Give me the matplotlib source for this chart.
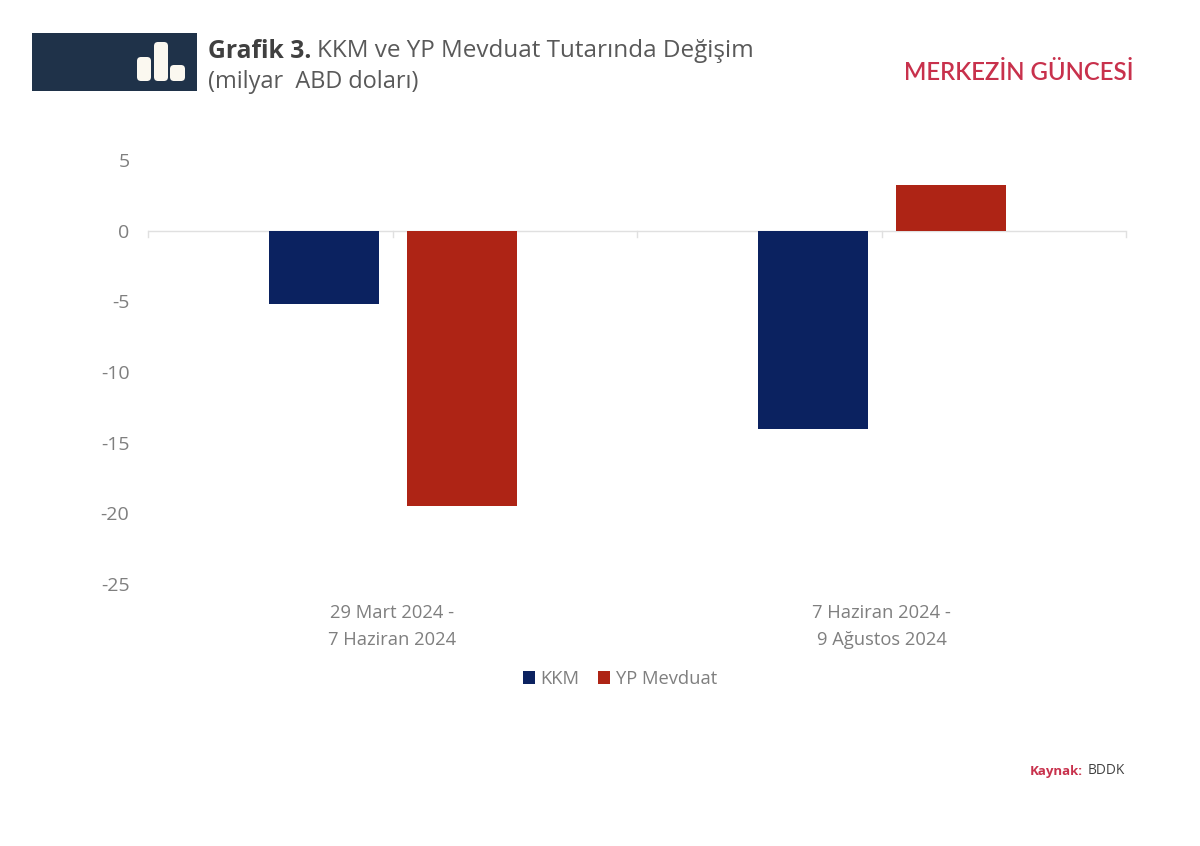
import matplotlib
matplotlib.use("Agg")
import matplotlib.pyplot as plt
from matplotlib.patches import Rectangle, FancyBboxPatch
from matplotlib.transforms import ScaledTranslation

categories = ["29 Mart 2024 -\n7 Haziran 2024", "7 Haziran 2024 -\n9 Ağustos 2024"]
kkm = [-5.2, -14.05]
yp = [-19.5, 3.25]
yticks = [5, 0, -5, -10, -15, -20, -25]

NAVY = "#0b2260"
RED = "#ae2415"
GREY = "#7f7f7f"
W, H = 1200, 846

plt.rcParams["font.family"] = ["Open Sans", "Noto Sans", "DejaVu Sans"]
fig = plt.figure(figsize=(W / 100, H / 100), dpi=100, facecolor="white")

# Pixel overlay for header furniture
bg = fig.add_axes([0, 0, 1, 1], zorder=0)
bg.set_xlim(0, W)
bg.set_ylim(H, 0)
bg.axis("off")
bg.add_patch(Rectangle((32, 33), 165, 58, fc="#1f3249", ec="none"))
for x0, y0, x1, y1 in [(137, 57, 151, 81), (154, 42, 168, 81), (170, 65, 185, 81)]:
    bg.add_patch(FancyBboxPatch((x0 + 3, y0 + 3), x1 - x0 - 6, y1 - y0 - 6,
                                boxstyle="round,pad=3,rounding_size=4",
                                fc="#fbf8f0", ec="none"))
title = bg.text(208, 51, "Grafik 3.", fontsize=17.8, fontweight="bold",
                color="#404040", va="center", ha="left")
fig.canvas.draw()
bb = title.get_window_extent()
bg.text(bb.x1 + 6, 51, "KKM ve YP Mevduat Tutarında Değişim", fontsize=17.5,
        color="#595959", va="center", ha="left")
bg.text(208, 82, "(milyar  ABD doları)", fontsize=16.9, color="#595959",
        va="center", ha="left")
bg.text(1133, 73, "MERKEZİN GÜNCESİ", fontsize=17.2, color="#c8314c", va="center",
        ha="right", family=["Lato", "DejaVu Sans"], fontweight="semibold")
bg.text(1083, 771, "Kaynak:", fontsize=9.5, fontweight="bold", color="#c8314c",
        va="center", ha="right")
bg.text(1088, 771, "BDDK", fontsize=9.8, color="#404040", va="center", ha="left")

# Chart
ax = fig.add_axes([148 / W, 1 - 584 / H, (1126 - 148) / W, (584 - 160) / H], zorder=1)
ax.patch.set_alpha(0)
bar_w = 0.225
off = 0.1415
shift = 0.0005
xs = range(len(categories))
b1 = ax.bar([x - off + shift for x in xs], kkm, bar_w, color=NAVY, label="KKM", zorder=3)
b2 = ax.bar([x + off + shift for x in xs], yp, bar_w, color=RED, label="YP Mevduat", zorder=3)
ax.set_xlim(-0.5, 1.5)
ax.set_ylim(-25, 5)
ax.set_yticks(yticks)
ax.set_yticklabels([str(t) for t in yticks], fontsize=14, color=GREY, va="center")
ax.tick_params(axis="y", length=0, pad=13.4)
nudge = ScaledTranslation(0, -2 / 100, fig.dpi_scale_trans)
for label in ax.get_yticklabels():
    label.set_transform(label.get_transform() + nudge)
for s in ["top", "left", "right", "bottom"]:
    ax.spines[s].set_visible(False)
ax.axhline(0, color="#e0e0e0", lw=1.0, zorder=1)
ax.set_xticks([])
for tx in [-0.5, 0, 0.5, 1, 1.5]:
    ax.plot([tx, tx], [0, -0.45], color="#e0e0e0", lw=1.0, zorder=1, clip_on=False)
for x, lab in zip(xs, categories):
    a, b = lab.split("\n")
    ax.annotate(a, (x, -25), xytext=(0, -29), xycoords="data", textcoords="offset pixels",
                ha="center", va="center", fontsize=13.2, color=GREY)
    ax.annotate(b, (x, -25), xytext=(0, -56), xycoords="data", textcoords="offset pixels",
                ha="center", va="center", fontsize=13.2, color=GREY)

leg = ax.legend(loc="center", bbox_to_anchor=(620 / W, 1 - 679 / H),
                bbox_transform=fig.transFigure, ncol=2, frameon=False, fontsize=13.2,
                handlelength=0.64, handleheight=0.64, handletextpad=0.33,
                columnspacing=1.0, borderpad=0, borderaxespad=0, labelcolor=GREY)

fig.savefig("out.png", dpi=100, facecolor="white")
